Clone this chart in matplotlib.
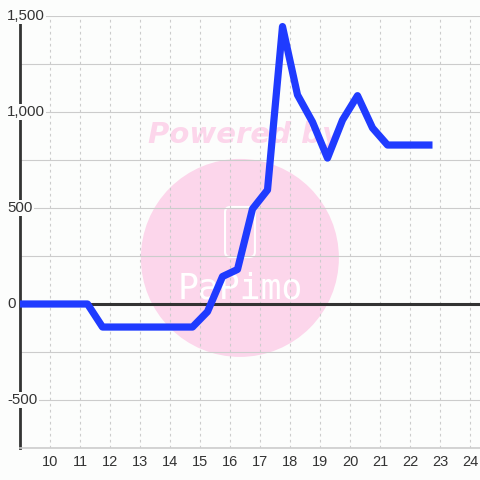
import matplotlib
matplotlib.use("Agg")
import matplotlib.pyplot as plt
from matplotlib.patches import Ellipse, FancyBboxPatch

# ---- data ----
hours = [8.75, 9.25, 9.75, 10.25, 10.75, 11.25, 11.75, 12.25, 12.75, 13.25, 13.75,
         14.25, 14.75, 15.25, 15.75, 16.25, 16.75, 17.25, 17.75, 18.25, 18.75,
         19.25, 19.75, 20.25, 20.75, 21.25, 21.75, 22.25, 22.75]
values = [0, 0, 0, 0, 0, 0, -120, -120, -120, -120, -120,
          -120, -120, -40, 143, 180, 495, 594, 1445, 1089, 948,
          760, 958, 1085, 917, 828, 828, 828, 828]
x_ticks = list(range(10, 25))
y_major = [-500, 0, 500, 1000, 1500]
y_major_labels = ["-500", "0", "500", "1,000", "1,500"]
y_grid = [-750, -500, -250, 0, 250, 500, 750, 1000, 1250, 1500]

BG = "#fcfdfc"
GRID = "#cccccc"
DARK = "#333333"
BLUE = "#1f3bff"
PINK = "#fcd6eb"

plt.rcParams["font.family"] = ["Liberation Sans", "DejaVu Sans"]

fig = plt.figure(figsize=(4.8, 4.8), dpi=100, facecolor=BG)
ax = fig.add_axes([20 / 480, 32 / 480, 460 / 480, 432 / 480])
ax.set_facecolor(BG)
ax.set_xlim(9, 24.3333)
ax.set_ylim(-750, 1500)

# watermark
ax.add_patch(Ellipse((0.478, 0.44), 198 / 460, 198 / 432, transform=ax.transAxes,
                     facecolor=PINK, edgecolor="none", zorder=0))
ax.add_patch(FancyBboxPatch((0.4457, 0.442), 0.065, 0.116, transform=ax.transAxes,
                            boxstyle="round,pad=0.0,rounding_size=0.012",
                            facecolor="none", edgecolor="white", lw=1.5, zorder=0.2))
ax.text(0.478, 0.37, "PaPimo", transform=ax.transAxes, ha="center", va="center",
        color="white", fontsize=25, family="DejaVu Sans Mono", zorder=0.2)
ax.text(0.487, 0.725, "Powered by", transform=ax.transAxes, ha="center", va="center",
        color=PINK, fontsize=21, fontweight="bold", fontstyle="italic",
        family="DejaVu Sans", zorder=0.2)

# grid
for v in y_grid:
    ax.axhline(v, color=GRID, lw=0.8, zorder=1)
for t in x_ticks:
    ax.axvline(t, color=GRID, lw=0.8, ls=(0, (2.4, 3.0)), zorder=1)

ax.axhline(0, color=DARK, lw=2.2, zorder=2)

ax.plot(hours, values, color=BLUE, lw=5.2, solid_joinstyle="round",
        solid_capstyle="butt", zorder=3)

# spines
for s in ["top", "right"]:
    ax.spines[s].set_visible(False)
ax.spines["left"].set_color(DARK)
ax.spines["left"].set_linewidth(2.0)
ax.spines["bottom"].set_color(GRID)
ax.spines["bottom"].set_linewidth(1.2)

ax.set_xticks(x_ticks)
ax.set_xticklabels([str(t) for t in x_ticks])
ax.tick_params(axis="x", length=0, pad=5, labelsize=10.5, labelcolor=DARK)
ax.set_yticks([])

for v, lab in zip(y_major, y_major_labels):
    ax.text(-13 / 460, v, lab, transform=ax.get_yaxis_transform(), ha="left",
            va="center", fontsize=10.8, color=DARK, zorder=6, clip_on=False,
            bbox=dict(facecolor=BG, edgecolor="none", pad=1.0))

fig.savefig("out.png", dpi=100, facecolor=BG)
